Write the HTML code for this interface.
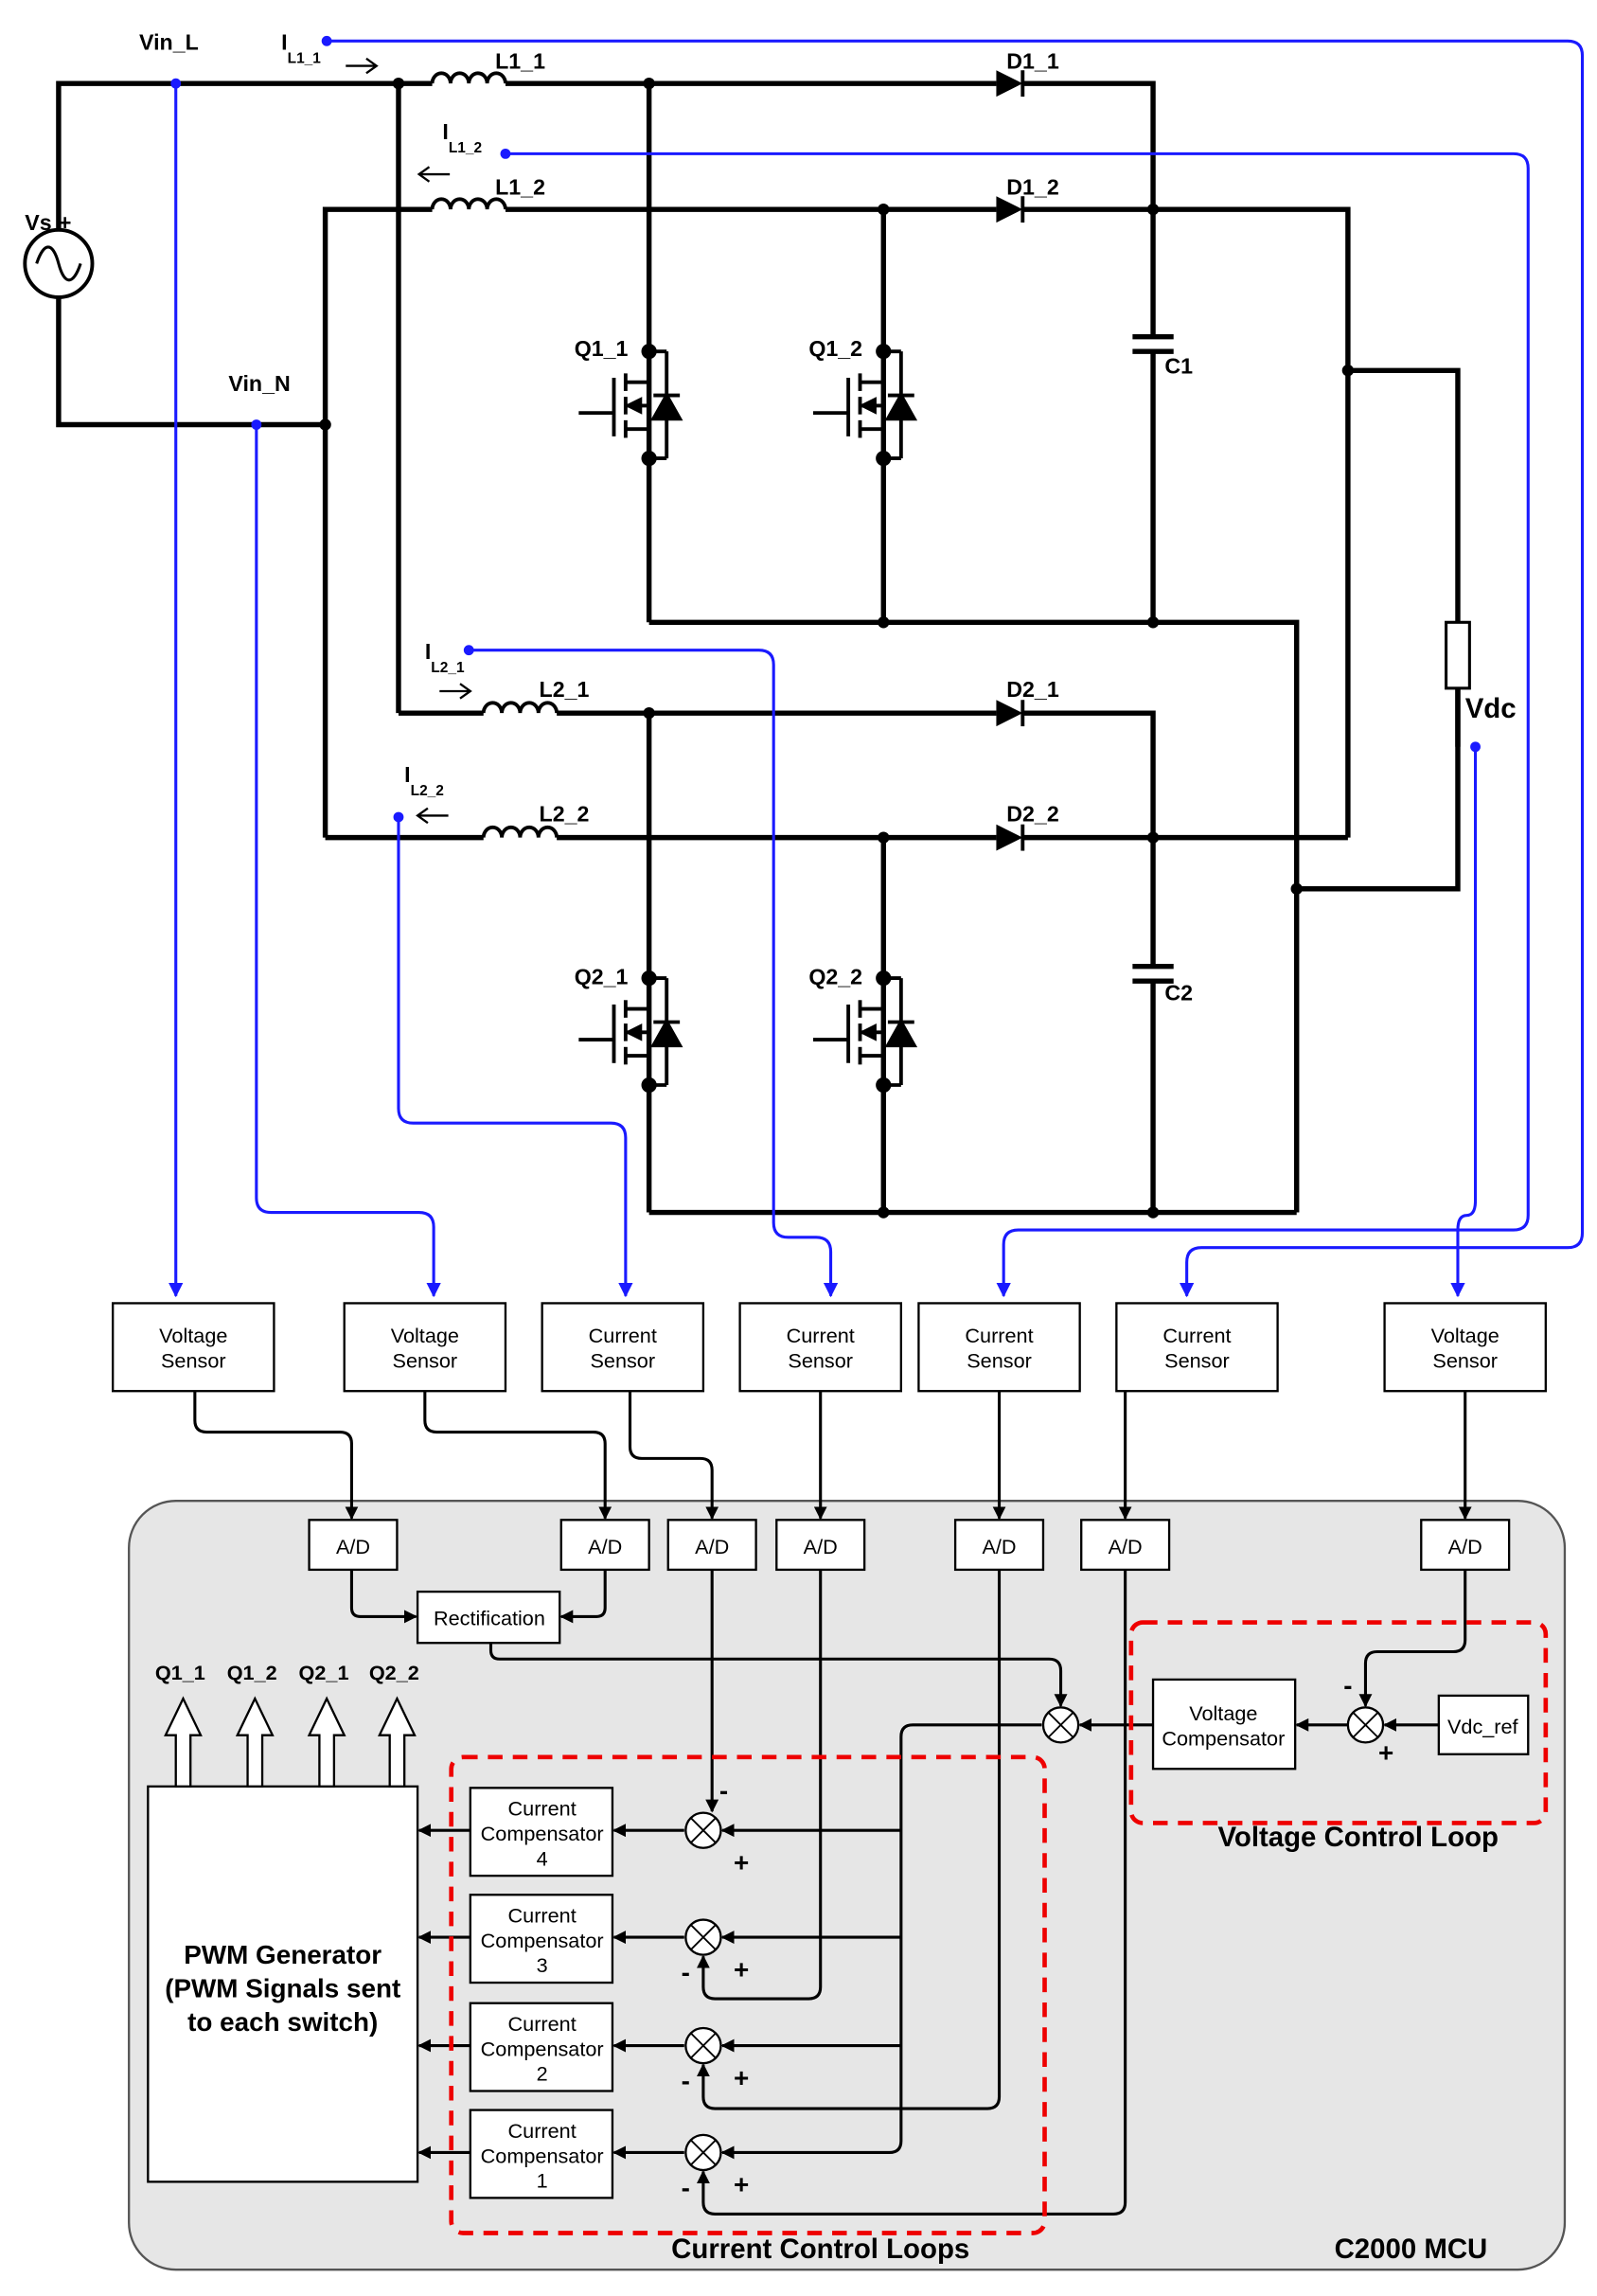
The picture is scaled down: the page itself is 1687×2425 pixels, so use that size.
<!DOCTYPE html>
<html><head><meta charset="utf-8"><style>
html,body{margin:0;padding:0;background:#fff;}
svg{display:block;}
text{font-family:"Liberation Sans",Arial,sans-serif;}
</style></head><body>
<svg width="1687" height="2425" viewBox="0 0 1090 1568" preserveAspectRatio="none" xmlns="http://www.w3.org/2000/svg">
<defs>
<marker id="ab" viewBox="0 0 10 10" refX="9" refY="5" markerWidth="9" markerHeight="9" markerUnits="userSpaceOnUse" orient="auto"><path d="M0,0 L10,5 L0,10 z" fill="#000"/></marker>
<marker id="au" viewBox="0 0 10 10" refX="9" refY="5" markerWidth="10" markerHeight="10" markerUnits="userSpaceOnUse" orient="auto"><path d="M0,0 L10,5 L0,10 z" fill="#1a1aff"/></marker>
<g id="mos" stroke="#000" stroke-width="2.5" fill="none">
 <line x1="-48" y1="42" x2="-24" y2="42"/>
 <line x1="-24" y1="18" x2="-24" y2="58"/>
 <line x1="-16" y1="15" x2="-16" y2="27"/><line x1="-16" y1="31" x2="-16" y2="43"/><line x1="-16" y1="47" x2="-16" y2="59"/>
 <line x1="-16" y1="21" x2="0" y2="21"/><line x1="-16" y1="53" x2="0" y2="53"/>
 <line x1="-16" y1="37" x2="0" y2="37"/>
 <path d="M-14,37 L-6,33 L-6,41 z" fill="#000"/>
 <line x1="0" y1="0" x2="12" y2="0"/><line x1="0" y1="73" x2="12" y2="73"/>
 <line x1="12" y1="0" x2="12" y2="73"/>
 <path d="M3,46 L21,46 L12,30 z" fill="#000"/>
 <line x1="3" y1="30" x2="21" y2="30"/>
 <circle cx="0" cy="0" r="4" fill="#000"/><circle cx="0" cy="73" r="4" fill="#000"/>
</g>
<g id="ind" stroke="#000" stroke-width="2.5" fill="none">
 <path d="M0,0 a6.25,7 0 0 1 12.5,0 a6.25,7 0 0 1 12.5,0 a6.25,7 0 0 1 12.5,0 a6.25,7 0 0 1 12.5,0"/>
</g>
<g id="dio"><path d="M0,-9 L18,0 L0,9 z" fill="#000"/><line x1="18" y1="-9" x2="18" y2="9" stroke="#000" stroke-width="2.5"/></g>
<g id="sum"><circle r="12" fill="#fff" stroke="#000" stroke-width="1.5"/><line x1="-8.5" y1="-8.5" x2="8.5" y2="8.5" stroke="#000" stroke-width="1.2"/><line x1="-8.5" y1="8.5" x2="8.5" y2="-8.5" stroke="#000" stroke-width="1.2"/></g>
</defs>
<rect width="1090" height="1568" fill="#fff"/>

<g stroke="#000" stroke-width="3.5" fill="none">
 <polyline points="40,157 40,57 295,57"/>
 <polyline points="345,57 680,57"/>
 <polyline points="698,57 787,57 787,230"/>
 <line x1="787" y1="240" x2="787" y2="425"/>
 <polyline points="40,203 40,290 222,290"/>
 <polyline points="222,572 222,143 295,143"/>
 <line x1="345" y1="143" x2="680" y2="143"/>
 <polyline points="698,143 920,143 920,572"/>
 <polyline points="920,253 995,253 995,425"/>
 <polyline points="995,470 995,607 885,607"/>
 <line x1="272" y1="57" x2="272" y2="487"/>
 <line x1="443" y1="57" x2="443" y2="425"/>
 <line x1="603" y1="143" x2="603" y2="425"/>
 <polyline points="443,425 885,425 885,828"/>
 <polyline points="272,487 330,487"/>
 <line x1="380" y1="487" x2="680" y2="487"/>
 <polyline points="698,487 787,487 787,660"/>
 <line x1="787" y1="670" x2="787" y2="828"/>
 <polyline points="222,572 330,572"/>
 <line x1="380" y1="572" x2="680" y2="572"/>
 <line x1="698" y1="572" x2="920" y2="572"/>
 <line x1="443" y1="487" x2="443" y2="828"/>
 <line x1="603" y1="572" x2="603" y2="828"/>
 <line x1="443" y1="828" x2="885" y2="828"/>
 <line x1="773" y1="230" x2="801" y2="230"/><line x1="773" y1="240" x2="801" y2="240"/>
 <line x1="773" y1="660" x2="801" y2="660"/><line x1="773" y1="670" x2="801" y2="670"/>
</g>
<rect x="987" y="425" width="16" height="45" fill="#fff" stroke="#000" stroke-width="2"/>
<line x1="995" y1="510" x2="995" y2="470" stroke="#000" stroke-width="3.5"/>
<g fill="#000">
 <circle cx="272" cy="57" r="4"/><circle cx="443" cy="57" r="4"/><circle cx="787" cy="143" r="4"/><circle cx="603" cy="143" r="4"/>
 <circle cx="222" cy="290" r="4"/><circle cx="920" cy="253" r="4"/><circle cx="603" cy="425" r="4"/><circle cx="787" cy="425" r="4"/>
 <circle cx="443" cy="487" r="4"/><circle cx="603" cy="572" r="4"/><circle cx="787" cy="572" r="4"/><circle cx="885" cy="607" r="4"/>
 <circle cx="603" cy="828" r="4"/><circle cx="787" cy="828" r="4"/>
</g>
<use href="#ind" x="295" y="57"/><use href="#ind" x="295" y="143"/><use href="#ind" x="330" y="487"/><use href="#ind" x="330" y="572"/>
<use href="#dio" x="680" y="57"/><use href="#dio" x="680" y="143"/><use href="#dio" x="680" y="487"/><use href="#dio" x="680" y="572"/>
<use href="#mos" x="443" y="240"/><use href="#mos" x="603" y="240"/><use href="#mos" x="443" y="668"/><use href="#mos" x="603" y="668"/>
<circle cx="40" cy="180" r="23" fill="#fff" stroke="#000" stroke-width="2.5"/>
<path d="M25,180 C30,165 36,165 40,180 C44,195 50,195 55,180" fill="none" stroke="#000" stroke-width="2"/>

<g font-weight="bold" font-size="15" fill="#000">
 <text x="95" y="34">Vin_L</text>
 <text x="156" y="267">Vin_N</text>
 <text x="17" y="157">Vs</text><text x="40" y="157">+</text>
 <text x="192" y="34">I<tspan font-size="10" dy="9">L1_1</tspan></text>
 <text x="302" y="95">I<tspan font-size="10" dy="9">L1_2</tspan></text>
 <text x="290" y="450">I<tspan font-size="10" dy="9">L2_1</tspan></text>
 <text x="276" y="534">I<tspan font-size="10" dy="9">L2_2</tspan></text>
 <text x="338" y="47">L1_1</text><text x="338" y="133">L1_2</text>
 <text x="368" y="476">L2_1</text><text x="368" y="561">L2_2</text>
 <text x="687" y="47">D1_1</text><text x="687" y="133">D1_2</text>
 <text x="687" y="476">D2_1</text><text x="687" y="561">D2_2</text>
 <text x="392" y="243">Q1_1</text><text x="552" y="243">Q1_2</text>
 <text x="392" y="672">Q2_1</text><text x="552" y="672">Q2_2</text>
 <text x="795" y="255">C1</text><text x="795" y="683">C2</text>
 <text x="1000" y="490" font-size="19">Vdc</text>
</g>
<g stroke="#000" stroke-width="1.5" fill="none">
 <polyline points="236,45 256,45"/><path d="M250,40 L257,45 L250,50"/>
 <polyline points="287,119 307,119"/><path d="M293,114 L286,119 L293,124"/>
 <polyline points="300,472 320,472"/><path d="M314,467 L321,472 L314,477"/>
 <polyline points="286,557 306,557"/><path d="M292,552 L285,557 L292,562"/>
</g>

<g stroke="#1a1aff" stroke-width="2" fill="none">
 <path d="M120,57 L120,885" marker-end="url(#au)"/>
 <path d="M175,290 L175,818 Q175,828 185,828 L286,828 Q296,828 296,838 L296,885" marker-end="url(#au)"/>
 <path d="M223,28 L1070,28 Q1080,28 1080,38 L1080,842 Q1080,852 1070,852 L820,852 Q810,852 810,862 L810,885" marker-end="url(#au)"/>
 <path d="M345,105 L1033,105 Q1043,105 1043,115 L1043,830 Q1043,840 1033,840 L695,840 Q685,840 685,850 L685,885" marker-end="url(#au)"/>
 <path d="M320,444 L518,444 Q528,444 528,454 L528,835 Q528,845 538,845 L557,845 Q567,845 567,855 L567,885" marker-end="url(#au)"/>
 <path d="M272,558 L272,757 Q272,767 282,767 L417,767 Q427,767 427,777 L427,885" marker-end="url(#au)"/>
 <path d="M1007,510 L1007,820 Q1007,830 1001,830 Q995,830 995,840 L995,885" marker-end="url(#au)"/>
</g>
<g fill="#1a1aff">
 <circle cx="120" cy="57" r="3.5"/><circle cx="175" cy="290" r="3.5"/><circle cx="223" cy="28" r="3.5"/><circle cx="345" cy="105" r="3.5"/>
 <circle cx="320" cy="444" r="3.5"/><circle cx="272" cy="558" r="3.5"/><circle cx="1007" cy="510" r="3.5"/>
</g>

<g stroke="#000" stroke-width="1.5" fill="#fff">
 <rect x="77" y="890" width="110" height="60"/><rect x="235" y="890" width="110" height="60"/>
 <rect x="370" y="890" width="110" height="60"/><rect x="505" y="890" width="110" height="60"/>
 <rect x="627" y="890" width="110" height="60"/><rect x="762" y="890" width="110" height="60"/>
 <rect x="945" y="890" width="110" height="60"/>
</g>
<g font-size="14" text-anchor="middle" fill="#000">
 <text x="132" y="917">Voltage</text><text x="132" y="934">Sensor</text>
 <text x="290" y="917">Voltage</text><text x="290" y="934">Sensor</text>
 <text x="425" y="917">Current</text><text x="425" y="934">Sensor</text>
 <text x="560" y="917">Current</text><text x="560" y="934">Sensor</text>
 <text x="682" y="917">Current</text><text x="682" y="934">Sensor</text>
 <text x="817" y="917">Current</text><text x="817" y="934">Sensor</text>
 <text x="1000" y="917">Voltage</text><text x="1000" y="934">Sensor</text>
</g>

<rect x="88" y="1025" width="980" height="525" rx="32" fill="#e6e6e6" stroke="#555" stroke-width="1.5"/>

<g stroke="#000" stroke-width="2" fill="none">
 <path d="M133,950 L133,970 Q133,978 141,978 L232,978 Q240,978 240,986 L240,1037" marker-end="url(#ab)"/>
 <path d="M290,950 L290,970 Q290,978 298,978 L405,978 Q413,978 413,986 L413,1037" marker-end="url(#ab)"/>
 <path d="M430,950 L430,988 Q430,996 438,996 L478,996 Q486,996 486,1004 L486,1037" marker-end="url(#ab)"/>
 <path d="M560,950 L560,1037" marker-end="url(#ab)"/>
 <path d="M682,950 L682,1037" marker-end="url(#ab)"/>
 <path d="M768,950 L768,1037" marker-end="url(#ab)"/>
 <path d="M1000,950 L1000,1037" marker-end="url(#ab)"/>
</g>
<g stroke="#000" stroke-width="1.5" fill="#fff">
 <rect x="211" y="1038" width="60" height="34"/><rect x="383" y="1038" width="60" height="34"/>
 <rect x="456" y="1038" width="60" height="34"/><rect x="530" y="1038" width="60" height="34"/>
 <rect x="652" y="1038" width="60" height="34"/><rect x="738" y="1038" width="60" height="34"/>
 <rect x="970" y="1038" width="60" height="34"/>
 <rect x="285" y="1087" width="97" height="35"/>
 <rect x="787" y="1147" width="97" height="61"/>
 <rect x="982" y="1158" width="61" height="40"/>
 <rect x="101" y="1220" width="184" height="270"/>
 <rect x="321" y="1221" width="97" height="60"/><rect x="321" y="1294" width="97" height="60"/>
 <rect x="321" y="1368" width="97" height="60"/><rect x="321" y="1441" width="97" height="60"/>
</g>
<g font-size="14" text-anchor="middle" fill="#000">
 <text x="241" y="1061">A/D</text><text x="413" y="1061">A/D</text><text x="486" y="1061">A/D</text>
 <text x="560" y="1061">A/D</text><text x="682" y="1061">A/D</text><text x="768" y="1061">A/D</text><text x="1000" y="1061">A/D</text>
 <text x="334" y="1110">Rectification</text>
 <text x="835" y="1175">Voltage</text><text x="835" y="1192">Compensator</text>
 <text x="1012" y="1184">Vdc_ref</text>
 <text x="370" y="1240">Current</text><text x="370" y="1257">Compensator</text><text x="370" y="1274">4</text>
 <text x="370" y="1313">Current</text><text x="370" y="1330">Compensator</text><text x="370" y="1347">3</text>
 <text x="370" y="1387">Current</text><text x="370" y="1404">Compensator</text><text x="370" y="1421">2</text>
 <text x="370" y="1460">Current</text><text x="370" y="1477">Compensator</text><text x="370" y="1494">1</text>
</g>
<g font-size="18" font-weight="bold" text-anchor="middle" fill="#000">
 <text x="193" y="1341">PWM Generator</text>
 <text x="193" y="1364">(PWM Signals sent</text>
 <text x="193" y="1387">to each switch)</text>
</g>

<g stroke="#000" stroke-width="2" fill="none">
 <path d="M240,1072 L240,1098 Q240,1104 246,1104 L284,1104" marker-end="url(#ab)"/>
 <path d="M413,1072 L413,1098 Q413,1104 407,1104 L383,1104" marker-end="url(#ab)"/>
 <path d="M335,1122 L335,1127 Q335,1133 341,1133 L716,1133 Q724,1133 724,1141 L724,1165" marker-end="url(#ab)"/>
 <path d="M787,1178 L737,1178" marker-end="url(#ab)"/>
 <path d="M920,1178 L885,1178" marker-end="url(#ab)"/>
 <path d="M982,1178 L945,1178" marker-end="url(#ab)"/>
 <path d="M1000,1072 L1000,1120 Q1000,1128 992,1128 L940,1128 Q932,1128 932,1136 L932,1165" marker-end="url(#ab)"/>
 <path d="M711,1178 L623,1178 Q615,1178 615,1186 L615,1462 Q615,1470 607,1470 L493,1470" marker-end="url(#ab)"/>
 <path d="M615,1250 L493,1250" marker-end="url(#ab)"/>
 <path d="M615,1323 L493,1323" marker-end="url(#ab)"/>
 <path d="M615,1397 L493,1397" marker-end="url(#ab)"/>
 <path d="M486,1072 L486,1237" marker-end="url(#ab)"/>
 <path d="M560,1072 L560,1357 Q560,1365 552,1365 L488,1365 Q480,1365 480,1357 L480,1336" marker-end="url(#ab)"/>
 <path d="M682,1072 L682,1432 Q682,1440 674,1440 L488,1440 Q480,1440 480,1432 L480,1410" marker-end="url(#ab)"/>
 <path d="M768,1072 L768,1504 Q768,1512 760,1512 L488,1512 Q480,1512 480,1504 L480,1483" marker-end="url(#ab)"/>
 <path d="M467,1250 L419,1250" marker-end="url(#ab)"/>
 <path d="M467,1323 L419,1323" marker-end="url(#ab)"/>
 <path d="M467,1397 L419,1397" marker-end="url(#ab)"/>
 <path d="M467,1470 L419,1470" marker-end="url(#ab)"/>
 <path d="M321,1250 L286,1250" marker-end="url(#ab)"/>
 <path d="M321,1323 L286,1323" marker-end="url(#ab)"/>
 <path d="M321,1397 L286,1397" marker-end="url(#ab)"/>
 <path d="M321,1470 L286,1470" marker-end="url(#ab)"/>
</g>
<use href="#sum" x="724" y="1178"/><use href="#sum" x="932" y="1178"/>
<use href="#sum" x="480" y="1250"/><use href="#sum" x="480" y="1323"/><use href="#sum" x="480" y="1397"/><use href="#sum" x="480" y="1470"/>
<g font-size="18" font-weight="bold" fill="#000" text-anchor="middle">
 <text x="920" y="1157">-</text><text x="946" y="1203">+</text>
 <text x="494" y="1229">-</text><text x="506" y="1278">+</text>
 <text x="468" y="1353">-</text><text x="506" y="1351">+</text>
 <text x="468" y="1427">-</text><text x="506" y="1425">+</text>
 <text x="468" y="1500">-</text><text x="506" y="1498">+</text>
</g>

<g fill="#fff" stroke="#000" stroke-width="1.5">
 <polygon points="120,1220 120,1185 113,1185 125,1160 137,1185 130,1185 130,1220"/>
 <polygon points="169,1220 169,1185 162,1185 174,1160 186,1185 179,1185 179,1220"/>
 <polygon points="218,1220 218,1185 211,1185 223,1160 235,1185 228,1185 228,1220"/>
 <polygon points="266,1220 266,1185 259,1185 271,1160 283,1185 276,1185 276,1220"/>
</g>
<g font-size="14" font-weight="bold" text-anchor="middle" fill="#000">
 <text x="123" y="1147">Q1_1</text><text x="172" y="1147">Q1_2</text><text x="221" y="1147">Q2_1</text><text x="269" y="1147">Q2_2</text>
</g>

<rect x="772" y="1108" width="283" height="137" rx="8" fill="none" stroke="#e00" stroke-width="3" stroke-dasharray="10,7"/>
<rect x="308" y="1200" width="405" height="325" rx="8" fill="none" stroke="#e00" stroke-width="3" stroke-dasharray="10,7"/>
<g font-size="19" font-weight="bold" fill="#000" text-anchor="middle">
 <text x="927" y="1261">Voltage Control Loop</text>
 <text x="560" y="1542">Current Control Loops</text>
 <text x="963" y="1542">C2000 MCU</text>
</g>
</svg>
</body></html>
